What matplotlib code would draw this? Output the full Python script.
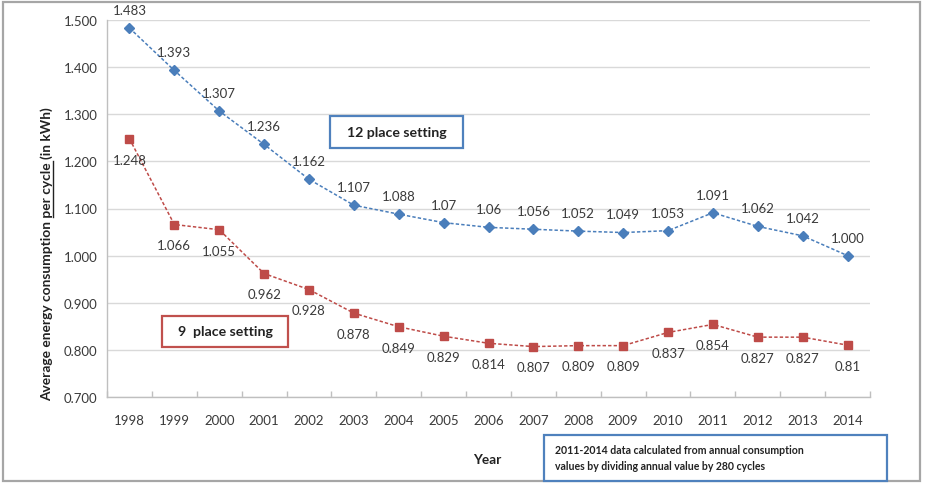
import matplotlib
matplotlib.use("Agg")
import matplotlib.pyplot as plt
from matplotlib.patches import Rectangle
from matplotlib.lines import Line2D
from matplotlib.transforms import IdentityTransform

# ---- data ----
years = [str(y) for y in range(1998, 2015)]
place12 = [1.483, 1.393, 1.307, 1.236, 1.162, 1.107, 1.088, 1.07, 1.06, 1.056,
           1.052, 1.049, 1.053, 1.091, 1.062, 1.042, 1.000]
place12_labels = ["1.483", "1.393", "1.307", "1.236", "1.162", "1.107", "1.088", "1.07",
                  "1.06", "1.056", "1.052", "1.049", "1.053", "1.091", "1.062", "1.042", "1.000"]
place9 = [1.248, 1.066, 1.055, 0.962, 0.928, 0.878, 0.849, 0.829, 0.814, 0.807,
          0.809, 0.809, 0.837, 0.854, 0.827, 0.827, 0.81]
place9_labels = ["1.248", "1.066", "1.055", "0.962", "0.928", "0.878", "0.849", "0.829",
                 "0.814", "0.807", "0.809", "0.809", "0.837", "0.854", "0.827", "0.827", "0.81"]
yticks = [0.7, 0.8, 0.9, 1.0, 1.1, 1.2, 1.3, 1.4, 1.5]

FONT = "Lato"
TXT = "#3a3a3a"
DARK = "#222222"
BLUE = "#4a7ebb"
RED = "#be4b48"

W, H = 925, 485
fig = plt.figure(figsize=(W / 100, H / 100), dpi=100)
plt.rcParams["font.family"] = [FONT, "DejaVu Sans"]


def fx(px):
    return px / W


def fy(py):
    return 1 - py / H


ax = fig.add_axes([fx(107), fy(398), fx(870) - fx(107), fy(21) - fy(398)])
x = list(range(len(years)))

ax.plot(x, place12, color=BLUE, lw=1.1, ls=(0, (2.2, 1.4)), marker="D",
        ms=4.6, mfc=BLUE, mec=BLUE, zorder=3)
ax.plot(x, place9, color=RED, lw=1.1, ls=(0, (2.2, 1.4)), marker="s",
        ms=6.2, mfc=RED, mec=RED, zorder=3)

for i, (v, s) in enumerate(zip(place12, place12_labels)):
    ax.annotate(s, (i, v), xytext=(0, 13), textcoords="offset points",
                ha="center", va="center", fontsize=9.5, color=TXT)
for i, (v, s) in enumerate(zip(place9, place9_labels)):
    ax.annotate(s, (i, v), xytext=(0, -15), textcoords="offset points",
                ha="center", va="center", fontsize=9.5, color=TXT)

ax.set_xlim(-0.5, len(years) - 0.5)
ax.set_ylim(0.7, 1.5)
ax.set_yticks(yticks)
ax.set_yticklabels([f"{t:.3f}" for t in yticks], fontsize=9.5, color=TXT)
ax.set_xticks(x)
ax.set_xticklabels(years, fontsize=9.5, color=TXT)
ax.set_xticks([i + 0.5 for i in range(-1, len(years))], minor=True)
ax.tick_params(axis="x", which="major", length=0, pad=12)
ax.tick_params(axis="x", which="minor", direction="in", length=4, color="#bfbfbf", width=1)
ax.tick_params(axis="y", length=0, pad=7)
ax.grid(axis="y", color="#d9d9d9", lw=1)
ax.set_axisbelow(True)
for side in ("top", "right"):
    ax.spines[side].set_visible(False)
for side in ("left", "bottom"):
    ax.spines[side].set_color("#bfbfbf")
    ax.spines[side].set_linewidth(1)

# axis titles
fig.text(fx(487), fy(460), "Year", ha="center", va="center",
         fontsize=9.8, fontweight="bold", color=DARK)

pre = "Average energy consumption "
und = "per cycle"
post = " (in kWh)"
ylab = fig.text(fx(47), fy(254), pre + und + post, rotation=90, ha="center", va="center",
                fontsize=9.9, fontweight="bold", color=DARK)


def frame_box(x0, y0, x1, y1, edge):
    fig.add_artist(Rectangle((fx(x0), fy(y1)), fx(x1) - fx(x0), fy(y0) - fy(y1),
                             transform=fig.transFigure, facecolor="white",
                             edgecolor=edge, lw=1.6, zorder=5))


# series name boxes
frame_box(330, 117, 463, 149, "#4f81bd")
fig.text(fx(396.5), fy(133), "12 place setting", ha="center", va="center",
         fontsize=10.2, fontweight="bold", color=DARK, zorder=6)
frame_box(162, 317, 288, 348, "#c0504d")
fig.text(fx(225), fy(332.5), "9  place setting", ha="center", va="center",
         fontsize=10.2, fontweight="bold", color=DARK, zorder=6)

# note box
frame_box(544, 436, 887, 482, "#4f81bd")
fig.text(fx(555), fy(451), "2011-2014 data calculated from annual consumption",
         ha="left", va="center", fontsize=7.6, fontweight="bold", color=DARK, zorder=6)
fig.text(fx(555), fy(467), "values by dividing annual value by 280 cycles",
         ha="left", va="center", fontsize=7.6, fontweight="bold", color=DARK, zorder=6)

# outer frame
fig.add_artist(Rectangle((fx(3), fy(482)), fx(920) - fx(3), fy(3) - fy(482),
                         transform=fig.transFigure, fill=False, edgecolor="#a6a6a6",
                         lw=1.6, zorder=0))

# underline the "per cycle" part of the y-axis title
fig.canvas.draw()
r = fig.canvas.get_renderer()
bb = ylab.get_window_extent(r)
prop = ylab.get_fontproperties()
w_full, _, d = r.get_text_width_height_descent(pre + und + post, prop, ismath=False)
w_pre, _, _ = r.get_text_width_height_descent(pre, prop, ismath=False)
w_und, _, _ = r.get_text_width_height_descent(und, prop, ismath=False)
scale = bb.height / w_full
ys0 = bb.y0 + w_pre * scale
ys1 = ys0 + w_und * scale
xu = bb.x1 - d * 0.2
ul = Line2D([xu, xu], [ys0, ys1], color=DARK, lw=1.0, zorder=10)
ul.set_transform(IdentityTransform())
fig.add_artist(ul)

fig.savefig("out.png", dpi=100)
